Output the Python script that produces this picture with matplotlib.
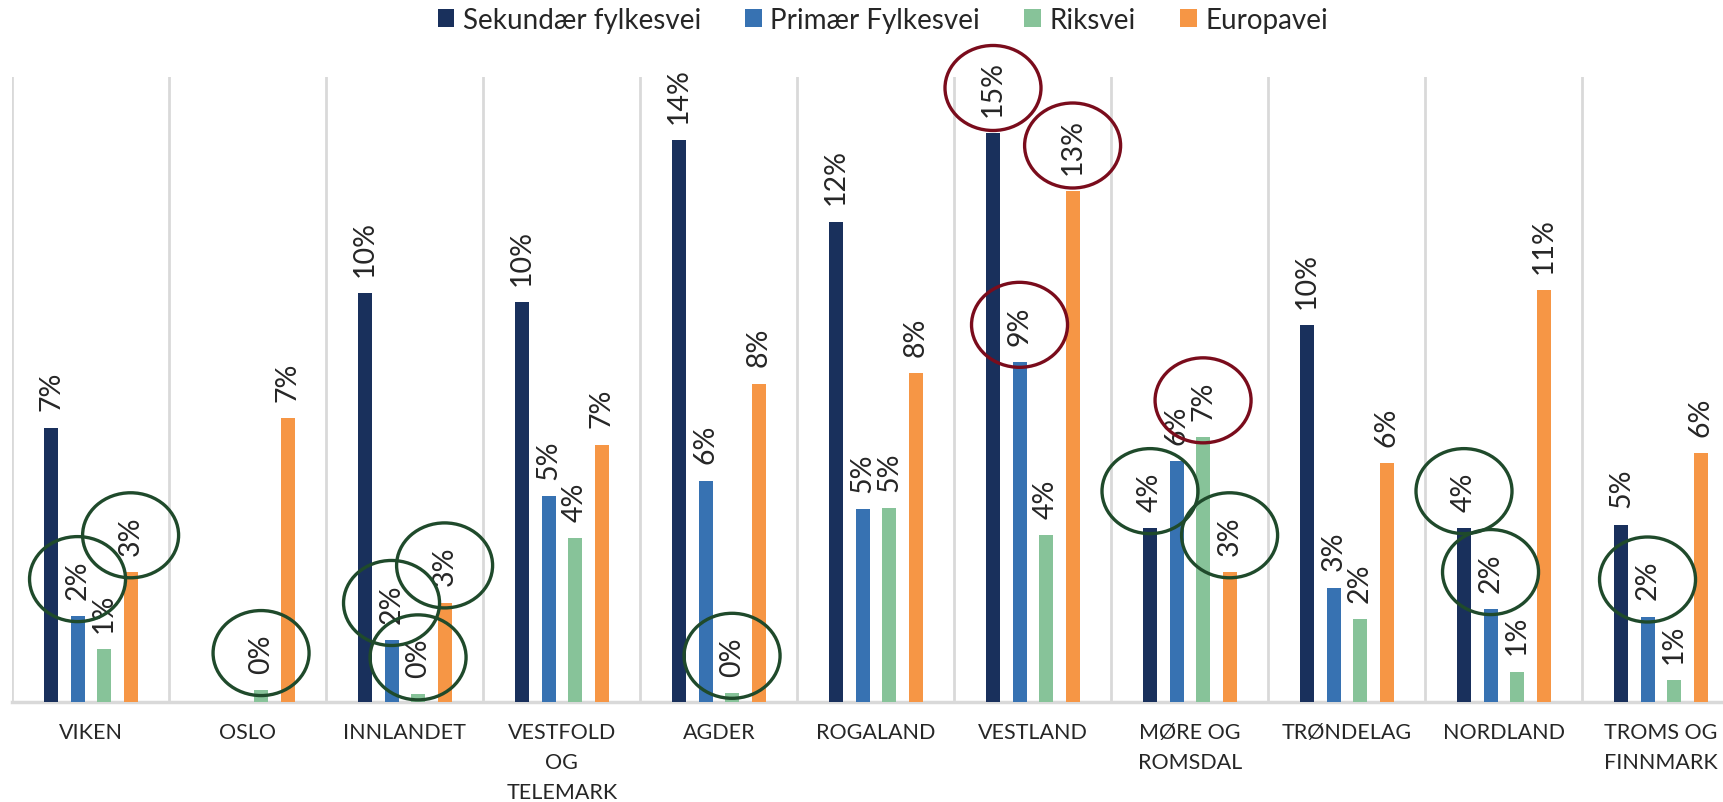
import numpy as np
import matplotlib
matplotlib.use("Agg")
import matplotlib.pyplot as plt
from matplotlib.patches import Ellipse
from matplotlib.transforms import IdentityTransform

# Data (andel i prosent)
regioner = ["VIKEN", "OSLO", "INNLANDET", "VESTFOLD\nOG\nTELEMARK", "AGDER",
            "ROGALAND", "VESTLAND", "MØRE OG\nROMSDAL", "TRØNDELAG",
            "NORDLAND", "TROMS OG\nFINNMARK"]
serier = ["Sekundær fylkesvei", "Primær Fylkesvei", "Riksvei", "Europavei"]
sekundaer = [7.02, np.nan, 10.46, 10.23, 14.37, 12.28, 14.54, 4.45, 9.64, 4.45, 4.54]
primaer = [2.20, np.nan, 1.59, 5.26, 5.66, 4.94, 8.70, 6.17, 2.93, 2.38, 2.19]
riksvei = [1.36, 0.31, 0.20, 4.19, 0.24, 4.96, 4.27, 6.77, 2.13, 0.78, 0.57]
europavei = [3.32, 7.26, 2.55, 6.58, 8.14, 8.41, 13.07, 3.32, 6.11, 10.54, 6.37]

# markerte etiketter: (region-indeks, serie-indeks)
gronne_sirkler = [(0, 1), (0, 3), (1, 2), (2, 1), (2, 2), (2, 3), (4, 2),
                  (7, 0), (7, 3), (9, 0), (9, 1), (10, 1)]
rode_sirkler = [(6, 0), (6, 3), (6, 1), (7, 2)]

farger = ["#19305C", "#3772B2", "#87C399", "#F69645"]
tekstfarge = "#262626"

plt.rcParams['font.family'] = ['Lato', 'DejaVu Sans']

fig = plt.figure(figsize=(17.24, 8.03), dpi=100)
ax = fig.add_axes([12.3 / 1724, 99.7 / 803, 1727 / 1724, 625.3 / 803])

data = [sekundaer, primaer, riksvei, europavei]
x = np.arange(len(regioner))
steg = 0.169
bredde = 0.089

etiketter = {}
for j, (navn, verdier) in enumerate(zip(serier, data)):
    pos = x + (j - 1.5) * steg
    ax.bar(pos, verdier, width=bredde, color=farger[j], label=navn, zorder=3)
    for i, v in enumerate(verdier):
        if np.isnan(v):
            continue
        t = ax.annotate(f"{v:.0f}%", (pos[i], v), xytext=(0, 12.5),
                        textcoords="offset points", rotation=90,
                        ha="center", va="bottom", fontsize=20.5,
                        color=tekstfarge, zorder=4)
        etiketter[(i, j)] = t

# skillelinjer mellom kategoriene
for b in np.arange(len(regioner) + 1) - 0.5:
    ax.axvline(b, color="#D9D9D9", lw=2, zorder=1)

ax.set_xlim(-0.5, len(regioner) - 0.5)
ax.set_ylim(0, 15.98)
ax.set_yticks([])
for s in ["top", "right", "left"]:
    ax.spines[s].set_visible(False)
ax.spines["bottom"].set_color("#D9D9D9")
ax.spines["bottom"].set_linewidth(2.5)
ax.set_xticks(x)
ax.set_xticklabels(regioner, fontsize=15.5, color=tekstfarge, linespacing=1.64)
ax.tick_params(axis="x", length=0, pad=14)

fig.legend(loc="center", bbox_to_anchor=(0.512, 0.974), ncol=4, frameon=False,
           fontsize=20, handlelength=0.6, handleheight=0.6, handletextpad=0.3,
           columnspacing=1.6, labelcolor=tekstfarge)

# sirkler rundt utvalgte etiketter
fig.canvas.draw()
for liste, farge in [(gronne_sirkler, "#1F4A2B"), (rode_sirkler, "#7A0C1C")]:
    for key in liste:
        bb = etiketter[key].get_window_extent()
        cx, cy = (bb.x0 + bb.x1) / 2, (bb.y0 + bb.y1) / 2
        e = Ellipse((cx, cy), 96, 85, fill=False, ec=farge, lw=2.4,
                    transform=IdentityTransform(), zorder=5)
        fig.add_artist(e)

fig.savefig("out.png", dpi=100)
